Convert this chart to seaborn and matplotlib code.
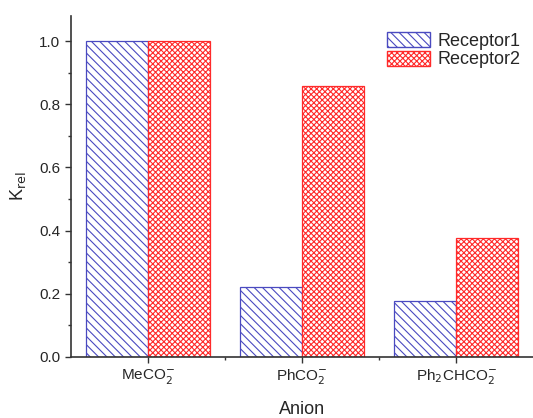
import matplotlib
matplotlib.use("Agg")
import matplotlib.pyplot as plt
import seaborn as sns
import pandas as pd
from matplotlib.ticker import MultipleLocator, FixedLocator

anions = [r"MeCO$_2^{-}$", r"PhCO$_2^{-}$", r"Ph$_2$CHCO$_2^{-}$"]
receptor1 = [1.0, 0.222, 0.178]
receptor2 = [1.0, 0.857, 0.376]
series = ["Receptor1", "Receptor2"]

df = pd.DataFrame({
    "Anion": anions * 2,
    "Krel": receptor1 + receptor2,
    "Series": [series[0]] * 3 + [series[1]] * 3,
})

sns.set_style("ticks")
plt.rcParams["font.family"] = ["Liberation Sans", "DejaVu Sans"]
plt.rcParams["hatch.linewidth"] = 0.8

fig = plt.figure(figsize=(5.33, 4.18), dpi=100)
ax = fig.add_axes([0.133, 0.146, 0.867, 0.816])

sns.barplot(data=df, x="Anion", y="Krel", hue="Series", ax=ax,
            width=0.8, palette=["white", "white"], legend=True)

colors = {"Receptor1": "#4a4ac0", "Receptor2": "#ff2a2a"}
hatches = {"Receptor1": "\\\\\\\\", "Receptor2": "xxxxxx"}
for cont, name in zip(ax.containers, series):
    for bar in cont:
        bar.set_facecolor("white")
        bar.set_edgecolor(colors[name])
        bar.set_hatch(hatches[name])
        bar.set_linewidth(0.9)

handles, labels = ax.get_legend_handles_labels()
for h, name in zip(handles, series):
    h.set_facecolor("white")
    h.set_edgecolor(colors[name])
    h.set_hatch(hatches[name])
ax.legend(handles, labels, loc="upper right", frameon=False, fontsize=13,
          handlelength=2.4, handleheight=0.9, borderaxespad=0.3,
          labelspacing=0.05, handletextpad=0.4, bbox_to_anchor=(1.0, 0.99))

ax.set_xlim(-0.5, 2.5)
ax.set_ylim(0, 1.08)
ax.yaxis.set_major_locator(MultipleLocator(0.2))
ax.yaxis.set_minor_locator(MultipleLocator(0.1))
ax.xaxis.set_minor_locator(FixedLocator([0.5, 1.5]))
ax.yaxis.set_major_formatter(matplotlib.ticker.FormatStrFormatter("%.1f"))
ax.tick_params(axis="both", which="major", direction="out", length=4, width=1, labelsize=11, color="#333333")
ax.tick_params(axis="both", which="minor", direction="out", length=2.5, width=1, color="#333333")

for s in ["top", "right"]:
    ax.spines[s].set_visible(False)
for s in ["left", "bottom"]:
    ax.spines[s].set_linewidth(1.2)
    ax.spines[s].set_color("#333333")

ax.set_xlabel("Anion", fontsize=13, labelpad=10)
ax.set_ylabel(r"K$_{\rm rel}$", fontsize=13, labelpad=8)

fig.savefig("out.png", dpi=100)
